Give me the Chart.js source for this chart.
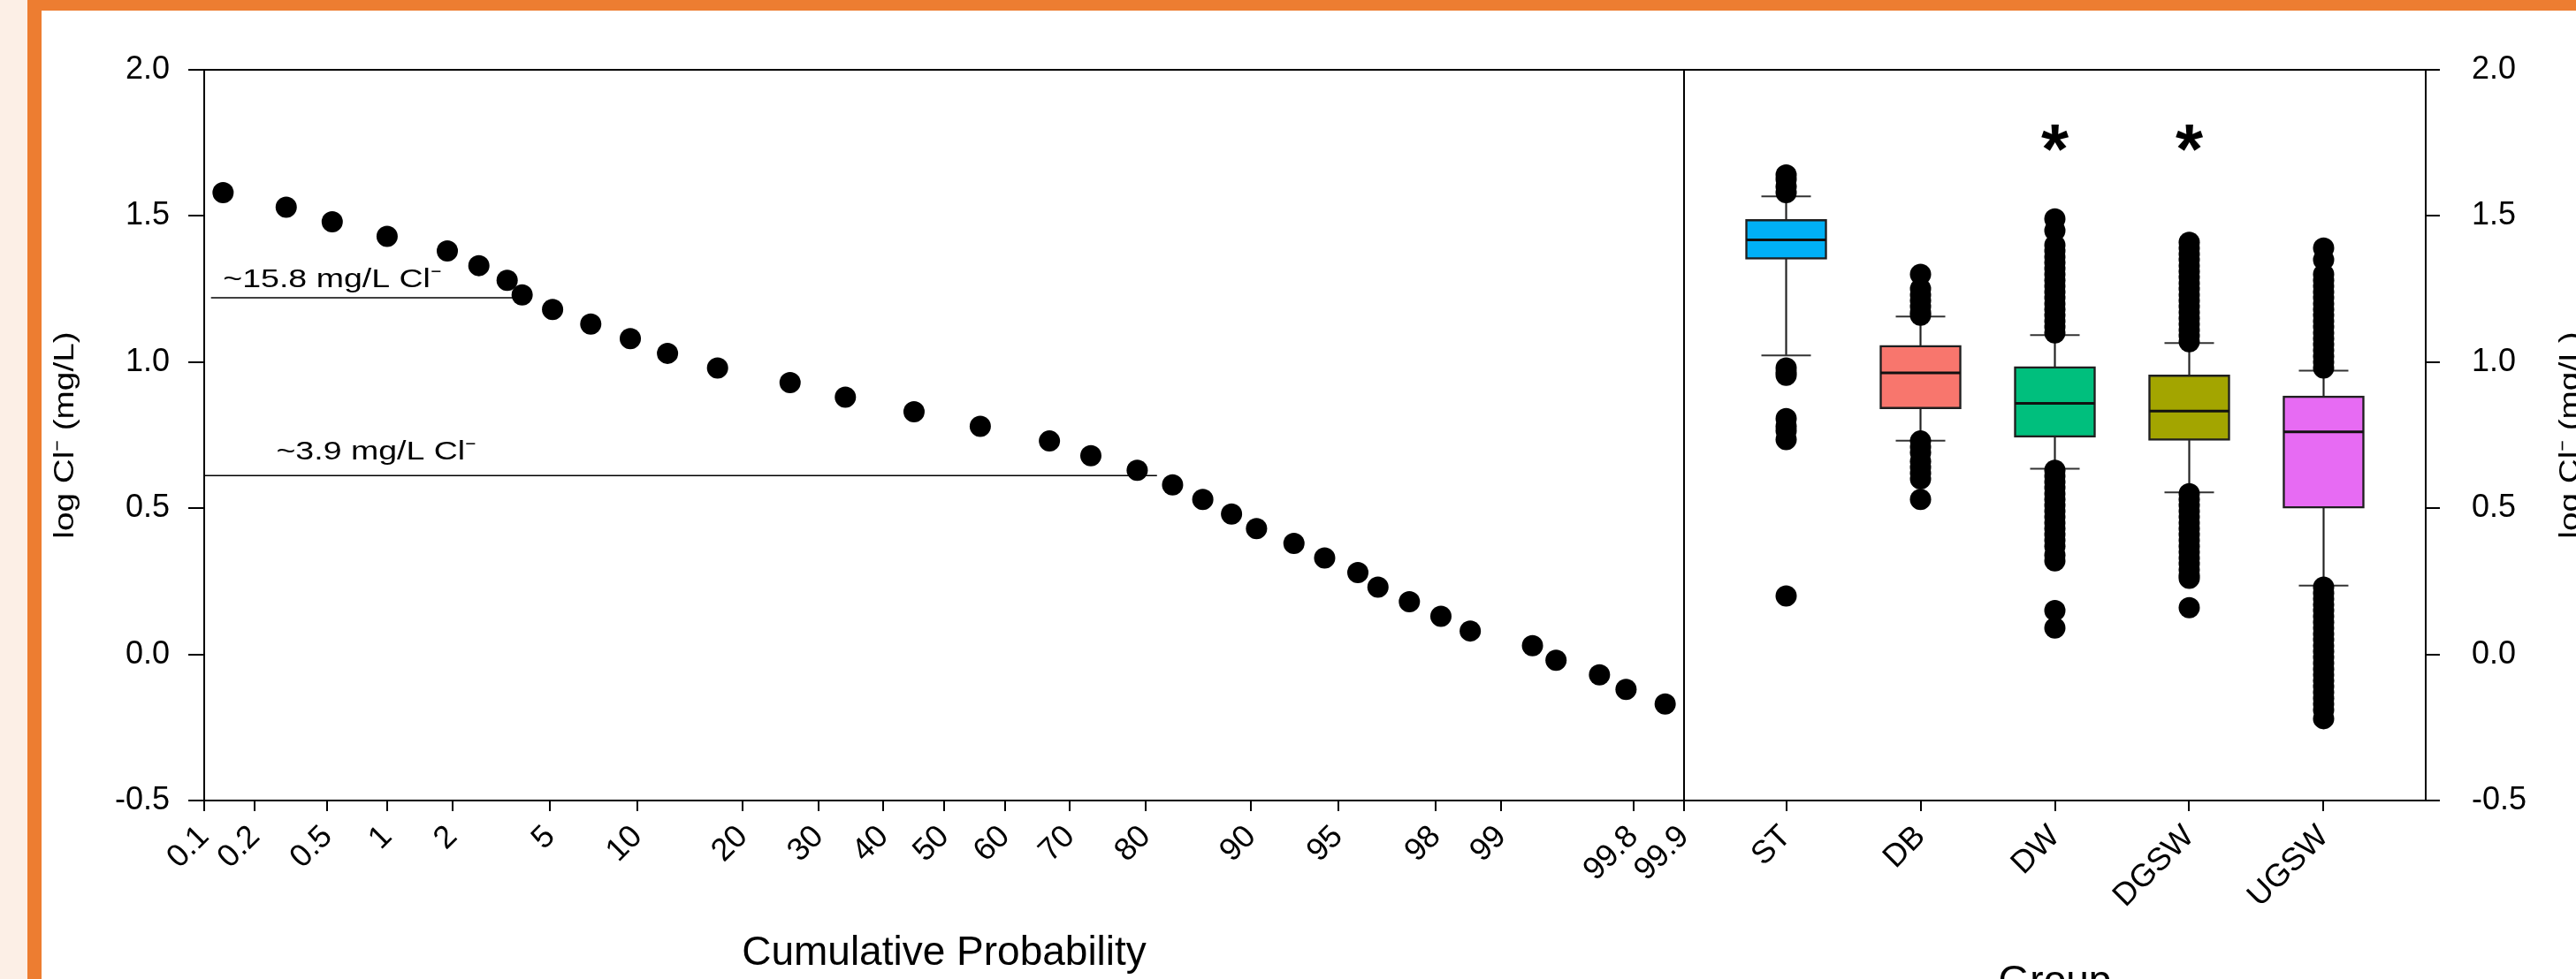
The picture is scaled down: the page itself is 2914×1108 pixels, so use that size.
<!DOCTYPE html>
<html>
<head>
<meta charset="utf-8">
<title>log Cl⁻ – Cumulative Probability / Group</title>
<script src="https://cdn.jsdelivr.net/npm/chart.js@4.4.1/dist/chart.umd.min.js"></script>
<style>
  html, body { margin: 0; padding: 0; width: 2914px; height: 1108px; overflow: hidden; background: #fff; }
  #page { position: relative; width: 2914px; height: 1108px; background: #fff; }
  .peach { position: absolute; left: 0; top: 0; width: 31px; height: 1108px; background: #fcefe6; }
  .orange-side { position: absolute; left: 31px; top: 0; width: 16px; height: 1108px; background: #ed7d31; }
  .orange-top { position: absolute; left: 31px; top: 0; width: 2883px; height: 12px; background: #ed7d31; }
  canvas { position: absolute; left: 0; top: 0; }
</style>
</head>
<body>
<div id="page">
  <div class="peach"></div>
  <div class="orange-side"></div>
  <div class="orange-top"></div>
  <canvas id="probChart" width="2914" height="1108"></canvas>
  <canvas id="boxChart" width="2914" height="1108"></canvas>
</div>
<script>
// Левая панель: вероятностный график
const probTicks = [0.1, 0.2, 0.5, 1, 2, 5, 10, 20, 30, 40, 50, 60, 70, 80, 90, 95, 98, 99, 99.8, 99.9]; // метки оси X, %
const cumProb = [0.13, 0.30, 0.53, 1.0, 1.9, 2.6, 3.4, 3.9, 5.1, 7.0, 9.5, 12.4, 17.2, 26, 34, 45, 56, 67, 73, 79,
                 83, 86, 88.5, 90.4, 92.8, 94.4, 95.8, 96.5, 97.4, 98.1, 98.6, 99.3, 99.47, 99.69, 99.78, 99.87]; // накопленная вероятность, %
const logCl = [1.58, 1.53, 1.48, 1.43, 1.38, 1.33, 1.28, 1.23, 1.18, 1.13, 1.08, 1.03, 0.98, 0.93, 0.88, 0.83, 0.78, 0.73, 0.68, 0.63,
               0.58, 0.53, 0.48, 0.43, 0.38, 0.33, 0.28, 0.23, 0.18, 0.13, 0.08, 0.03, -0.02, -0.07, -0.12, -0.17]; // log Cl-, мг/л

// Пороговые линии
const refLabels = ['~15.8 mg/L Cl⁻', '~3.9 mg/L Cl⁻'];
const refLevels = [1.22, 0.612];
const refFrom = [0.11, 0.1];
const refTo = [3.6, 81.3];

// Правая панель: диаграммы размаха по группам
const groups = ['ST', 'DB', 'DW', 'DGSW', 'UGSW'];
const q1 = [1.352, 0.840, 0.743, 0.732, 0.500];
const median = [1.418, 0.963, 0.859, 0.832, 0.761];
const q3 = [1.488, 1.057, 0.985, 0.956, 0.884];
const whiskLo = [1.023, 0.731, 0.635, 0.554, 0.235];
const whiskHi = [1.567, 1.156, 1.092, 1.065, 0.971];
const outST = [1.64, 1.625, 1.60, 1.58, 0.98, 0.965, 0.955, 0.807, 0.78, 0.765, 0.735, 0.20];
const outDB = [1.30, 1.25, 1.23, 1.21, 1.19, 1.17, 1.16, 0.73, 0.71, 0.69, 0.66, 0.64, 0.62, 0.60, 0.53];
const outDW = [1.49, 1.45, 1.40, 1.38, 1.36, 1.34, 1.32, 1.30, 1.28, 1.26, 1.24, 1.22, 1.20, 1.18, 1.16, 1.14, 1.12, 1.10,
               0.63, 0.61, 0.59, 0.57, 0.55, 0.53, 0.51, 0.49, 0.47, 0.45, 0.43, 0.41, 0.39, 0.37, 0.34, 0.32, 0.15, 0.09];
const outDGSW = [1.41, 1.39, 1.37, 1.35, 1.33, 1.31, 1.29, 1.27, 1.25, 1.23, 1.21, 1.19, 1.17, 1.15, 1.13, 1.11, 1.09, 1.07,
                 0.55, 0.53, 0.51, 0.49, 0.47, 0.45, 0.43, 0.41, 0.39, 0.37, 0.35, 0.33, 0.31, 0.29, 0.27, 0.26, 0.16];
const outUGSW = [1.39, 1.35, 1.30, 1.28, 1.26, 1.24, 1.22, 1.20, 1.18, 1.16, 1.14, 1.12, 1.10, 1.08, 1.06, 1.04, 1.02, 1.00, 0.98,
                 0.23, 0.21, 0.19, 0.17, 0.15, 0.13, 0.11, 0.09, 0.07, 0.05, 0.03, 0.01, -0.01, -0.03, -0.05, -0.07, -0.09,
                 -0.11, -0.13, -0.15, -0.17, -0.19, -0.22];
const outliers = [outST, outDB, outDW, outDGSW, outUGSW];
const starGroups = ['DW', 'DGSW']; // группы со звёздочкой
const starLevel = 1.767;

// Оформление
const FONT = "'Liberation Sans', Arial, Helvetica, sans-serif";
const boxColors = ['#00b0f6', '#f8766d', '#00bf7d', '#a3a500', '#e76bf3'];
const notePos = [{x: 0.13, y: 1.256}, {x: 0.264, y: 0.667}]; // привязка подписей к линиям (в координатах данных)
const TEXT_STRETCH = 1.25;

Chart.defaults.font.family = FONT;
Chart.defaults.color = '#000';

// Обратная функция нормального распределения (Acklam)
function probit(p) {
  const a = [-3.969683028665376e+01, 2.209460984245205e+02, -2.759285104469687e+02, 1.383577518672690e+02, -3.066479806614716e+01, 2.506628277459239e+00];
  const b = [-5.447609879822406e+01, 1.615858368580409e+02, -1.556989798598866e+02, 6.680131188771972e+01, -1.328068155288572e+01];
  const c = [-7.784894002430293e-03, -3.223964580411365e-01, -2.400758277161838e+00, -2.549732539343734e+00, 4.374664141464968e+00, 2.938163982698783e+00];
  const d = [7.784695709041462e-03, 3.224671290700398e-01, 2.445134137142996e+00, 3.754408661907416e+00];
  const pl = 0.02425;
  let q, r;
  if (p < pl) {
    q = Math.sqrt(-2 * Math.log(p));
    return (((((c[0] * q + c[1]) * q + c[2]) * q + c[3]) * q + c[4]) * q + c[5]) / ((((d[0] * q + d[1]) * q + d[2]) * q + d[3]) * q + 1);
  }
  if (p > 1 - pl) {
    q = Math.sqrt(-2 * Math.log(1 - p));
    return -(((((c[0] * q + c[1]) * q + c[2]) * q + c[3]) * q + c[4]) * q + c[5]) / ((((d[0] * q + d[1]) * q + d[2]) * q + d[3]) * q + 1);
  }
  q = p - 0.5; r = q * q;
  return (((((a[0] * r + a[1]) * r + a[2]) * r + a[3]) * r + a[4]) * r + a[5]) * q / (((((b[0] * r + b[1]) * r + b[2]) * r + b[3]) * r + b[4]) * r + 1);
}

// Вероятностная шкала для оси X
class ProbitScale extends Chart.LinearScale {
  determineDataLimits() {
    this.min = this.options.min;
    this.max = this.options.max;
  }
  buildTicks() {
    return probTicks.map(v => ({value: v}));
  }
  configure() {
    super.configure();
    this._zStart = probit(this.min / 100);
    this._zRange = probit(this.max / 100) - this._zStart;
  }
  getPixelForValue(value) {
    return this.getPixelForDecimal((probit(value / 100) - this._zStart) / this._zRange);
  }
  getValueForPixel(pixel) {
    const z = this._zStart + this.getDecimalForPixel(pixel) * this._zRange;
    let lo = 1e-6, hi = 1 - 1e-6;
    for (let k = 0; k < 60; k++) {
      const mid = (lo + hi) / 2;
      if (probit(mid) < z) lo = mid; else hi = mid;
    }
    return lo * 100;
  }
}
ProbitScale.id = 'probit';
ProbitScale.defaults = {};
Chart.register(ProbitScale);

const tickGrid = len => ({display: true, drawOnChartArea: false, drawTicks: true, tickLength: len, color: '#000', lineWidth: 2});
const frameOnly = {ticks: {display: false}, grid: {display: false}, border: {display: true, color: '#000', width: 2}};

// Надписи вдоль осей Y и подписи линий (растянутый шрифт как на оригинале)
function drawStretched(ctx, text, x, y, size, rotate) {
  ctx.save();
  ctx.translate(x, y);
  if (rotate) ctx.rotate(-Math.PI / 2);
  ctx.scale(TEXT_STRETCH, 1);
  ctx.font = size + 'px ' + FONT;
  ctx.fillStyle = '#000';
  ctx.textAlign = rotate ? 'center' : 'left';
  ctx.textBaseline = 'alphabetic';
  ctx.fillText(text, 0, 0);
  ctx.restore();
}

const notesPlugin = {
  id: 'notes',
  afterDatasetsDraw(chart) {
    const {ctx, scales: {x, y}, chartArea} = chart;
    refLabels.forEach((t, i) => {
      drawStretched(ctx, t, x.getPixelForValue(notePos[i].x), y.getPixelForValue(notePos[i].y), 30, false);
    });
    drawStretched(ctx, 'log Cl⁻ (mg/L)', 83, (chartArea.top + chartArea.bottom) / 2, 31, true);
  }
};

const starsPlugin = {
  id: 'stars',
  afterDatasetsDraw(chart) {
    const {ctx, scales: {x, y}, chartArea} = chart;
    ctx.save();
    ctx.font = 'bold 80px ' + FONT;
    ctx.fillStyle = '#000';
    ctx.textAlign = 'center';
    ctx.textBaseline = 'alphabetic';
    const m = ctx.measureText('*');
    const shift = (m.actualBoundingBoxAscent - m.actualBoundingBoxDescent) / 2;
    starGroups.forEach(g => {
      const i = groups.indexOf(g);
      ctx.fillText('*', x.getPixelForValue(i + 1), y.getPixelForValue(starLevel) + shift);
    });
    ctx.restore();
    drawStretched(ctx, 'log Cl⁻ (mg/L)', 2917, (chartArea.top + chartArea.bottom) / 2, 31, true);
  }
};

// Левый график
const probChart = new Chart(document.getElementById('probChart'), {
  type: 'scatter',
  data: {
    datasets: [{
      label: 'log Cl',
      data: cumProb.map((p, i) => ({x: p, y: logCl[i]})),
      pointRadius: 12,
      pointBackgroundColor: '#000',
      pointBorderWidth: 0,
      order: 0
    }].concat(refLevels.map((lv, i) => ({
      label: refLabels[i],
      data: [{x: refFrom[i], y: lv}, {x: refTo[i], y: lv}],
      showLine: true,
      borderColor: '#000',
      borderWidth: 1.5,
      pointRadius: 0,
      order: 1
    })))
  },
  options: {
    responsive: false,
    animation: false,
    events: [],
    layout: {padding: {left: 0, right: 2914 - 1905, top: 79, bottom: 0}},
    plugins: {legend: {display: false}, tooltip: {enabled: false}},
    scales: {
      x: {
        type: 'probit', position: 'bottom', min: 0.1, max: 99.9,
        afterFit: s => { s.height = 202; },
        border: {color: '#000', width: 2},
        grid: tickGrid(12),
        ticks: {autoSkip: false, minRotation: 45, maxRotation: 45, padding: 8, font: {size: 36}, color: '#000', callback: v => String(v)},
        title: {display: true, text: 'Cumulative Probability', font: {size: 46}, color: '#000', padding: {top: 0, bottom: 1}}
      },
      x2: Object.assign({type: 'linear', position: 'top', min: 0, max: 1, afterFit: s => { s.height = 0; }}, frameOnly),
      y: {
        type: 'linear', position: 'left', min: -0.5, max: 2.0,
        afterFit: s => { s.width = 231; },
        border: {color: '#000', width: 2},
        grid: tickGrid(18),
        ticks: {stepSize: 0.5, padding: 21, font: {size: 36}, color: '#000', callback: v => v.toFixed(1)}
      },
      y2: Object.assign({type: 'linear', position: 'right', min: -0.5, max: 2.0, afterFit: s => { s.width = 0; }}, frameOnly)
    }
  },
  plugins: [notesPlugin]
});

// Правый график (диаграммы размаха)
const xs = groups.map((g, i) => i + 1);
const boxChart = new Chart(document.getElementById('boxChart'), {
  type: 'bar',
  data: {
    datasets: [
      {
        type: 'scatter', label: 'outliers',
        data: outliers.flatMap((arr, i) => arr.map(v => ({x: xs[i], y: v}))),
        pointRadius: 12, pointBackgroundColor: '#000', pointBorderWidth: 0, order: 0
      },
      {
        type: 'scatter', label: 'median',
        data: xs.map((x, i) => ({x, y: median[i]})),
        pointStyle: 'line', pointRadius: 45, pointBorderColor: '#111', pointBorderWidth: 3, order: 1
      },
      {
        type: 'scatter', label: 'caps',
        data: xs.map((x, i) => ({x, y: whiskHi[i]})).concat(xs.map((x, i) => ({x, y: whiskLo[i]}))),
        pointStyle: 'line', pointRadius: 28, pointBorderColor: '#333', pointBorderWidth: 2, order: 2
      },
      {
        type: 'bar', label: 'IQR',
        data: xs.map((x, i) => ({x, y: [q1[i], q3[i]]})),
        backgroundColor: boxColors, borderColor: '#1f1f1f', borderWidth: 2.5, borderSkipped: false,
        barThickness: 92, grouped: false, order: 3
      },
      {
        type: 'bar', label: 'upper whisker',
        data: xs.map((x, i) => ({x, y: [q3[i], whiskHi[i]]})),
        backgroundColor: '#222', borderWidth: 0, barThickness: 1.5, grouped: false, order: 4
      },
      {
        type: 'bar', label: 'lower whisker',
        data: xs.map((x, i) => ({x, y: [whiskLo[i], q1[i]]})),
        backgroundColor: '#222', borderWidth: 0, barThickness: 1.5, grouped: false, order: 4
      }
    ]
  },
  options: {
    responsive: false,
    animation: false,
    events: [],
    layout: {padding: {left: 1905, right: 0, top: 79, bottom: 0}},
    plugins: {legend: {display: false}, tooltip: {enabled: false}},
    scales: {
      x: {
        type: 'linear', position: 'bottom', min: 0.24, max: 5.76, offset: false,
        afterFit: s => { s.height = 202; },
        afterBuildTicks: s => { s.ticks = xs.map(v => ({value: v})); },
        border: {color: '#000', width: 2},
        grid: Object.assign(tickGrid(12), {offset: false}),
        ticks: {autoSkip: false, minRotation: 45, maxRotation: 45, padding: 8, font: {size: 36}, color: '#000', callback: v => groups[v - 1]},
        title: {display: true, text: 'Group', font: {size: 46}, color: '#000', padding: {top: 0, bottom: -32}}
      },
      x2: Object.assign({type: 'linear', position: 'top', min: 0, max: 1, offset: false, afterFit: s => { s.height = 0; }}, frameOnly),
      y: {
        type: 'linear', position: 'right', min: -0.5, max: 2.0,
        afterFit: s => { s.width = 2914 - 2744; },
        border: {color: '#000', width: 2},
        grid: tickGrid(16),
        ticks: {stepSize: 0.5, padding: 36, font: {size: 36}, color: '#000', callback: v => v.toFixed(1)}
      }
    }
  },
  plugins: [starsPlugin]
});
</script>
</body>
</html>
